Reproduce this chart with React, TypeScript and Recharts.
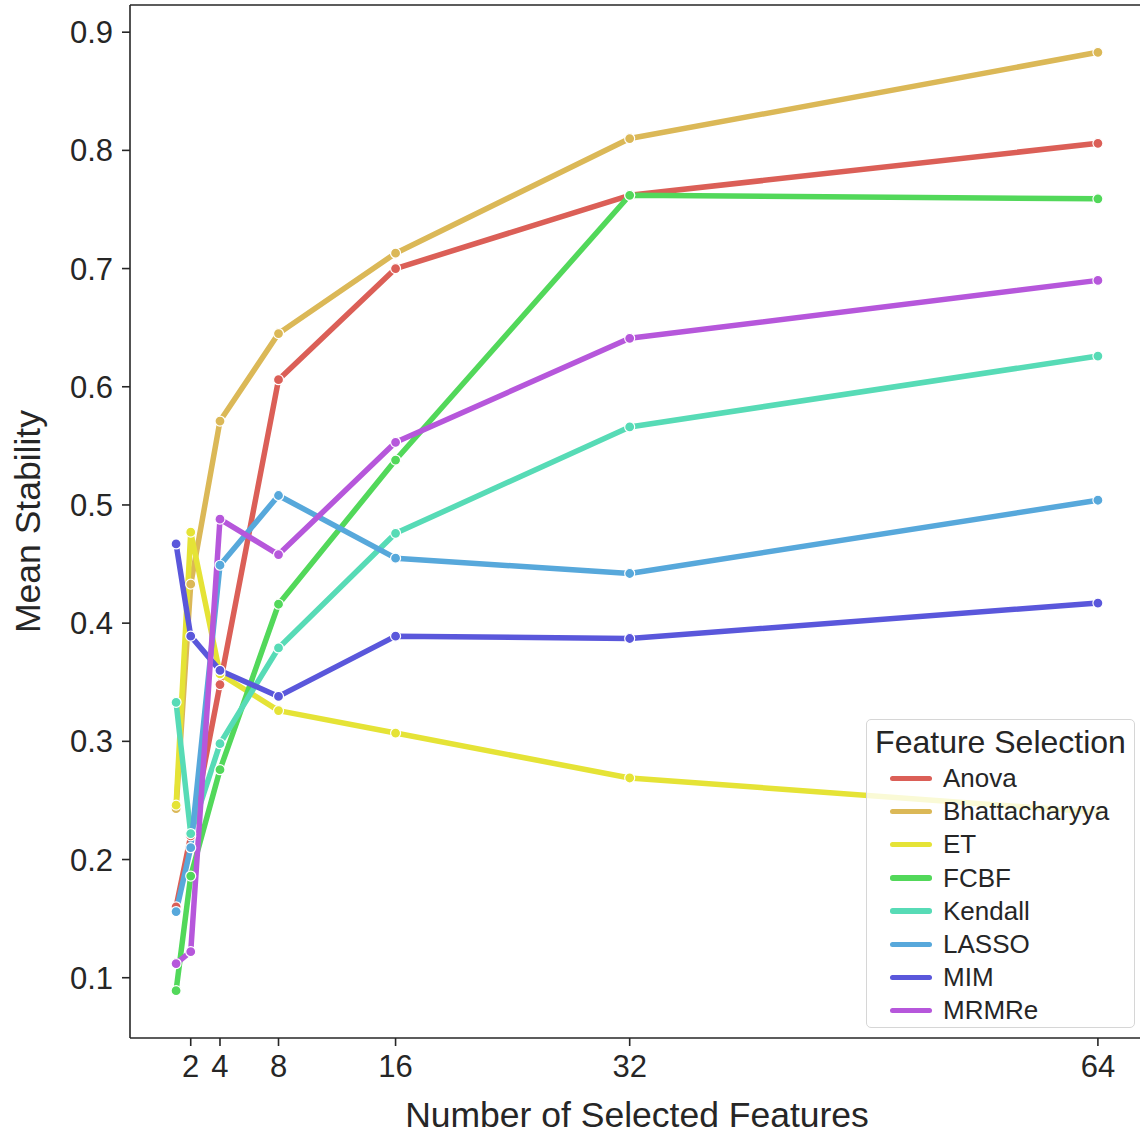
import React from 'react';
import { LineChart, Line, XAxis, YAxis, Legend, Label } from 'recharts';

const featureCounts = [1, 2, 4, 8, 16, 32, 64];
const xTicks = [2, 4, 8, 16, 32, 64];
const yTicks = [0.1, 0.2, 0.3, 0.4, 0.5, 0.6, 0.7, 0.8, 0.9];

const anova = [0.16, 0.22, 0.348, 0.606, 0.7, 0.762, 0.806];
const bhattacharyya = [0.243, 0.433, 0.571, 0.645, 0.713, 0.81, 0.883];
const et = [0.246, 0.477, 0.357, 0.326, 0.307, 0.269, 0.24];
const fcbf = [0.089, 0.186, 0.276, 0.416, 0.538, 0.762, 0.759];
const kendall = [0.333, 0.222, 0.298, 0.379, 0.476, 0.566, 0.626];
const lasso = [0.156, 0.21, 0.449, 0.508, 0.455, 0.442, 0.504];
const mim = [0.467, 0.389, 0.36, 0.338, 0.389, 0.387, 0.417];
const mrmre = [0.112, 0.122, 0.488, 0.458, 0.553, 0.641, 0.69];

const seriesNames = ['Anova', 'Bhattacharyya', 'ET', 'FCBF', 'Kendall', 'LASSO', 'MIM', 'MRMRe'];
const seriesValues = [anova, bhattacharyya, et, fcbf, kendall, lasso, mim, mrmre];
const seriesColors = ['#db5f57', '#dbb857', '#e5e336', '#52d85a', '#57dbb6', '#57a8db', '#5a57db', '#b657db'];

const data = featureCounts.map((x, i) => {
  const row: Record<string, number> = { x };
  seriesNames.forEach((n, k) => {
    row[n] = seriesValues[k][i];
  });
  return row;
});

const FONT = '"Liberation Sans", Arial, sans-serif';
const INK = '#262626';

const LegendBox = () => (
  <div
    style={{
      width: 269,
      height: 309,
      boxSizing: 'border-box',
      border: '1.3px solid #d6d6d6',
      borderRadius: 5,
      background: 'rgba(255,255,255,0.8)',
      fontFamily: FONT,
      color: INK,
      position: 'relative',
    }}
  >
    <div
      style={{
        position: 'absolute',
        left: 0,
        width: '100%',
        top: 21.5 - 18,
        height: 36,
        lineHeight: '36px',
        textAlign: 'center',
        fontSize: 32,
        whiteSpace: 'nowrap',
      }}
    >
      Feature Selection
    </div>
    {seriesNames.map((n, i) => (
      <div
        key={n}
        style={{
          position: 'absolute',
          left: 0,
          top: 58 + i * 33.2 - 15,
          height: 30,
          width: '100%',
        }}
      >
        <div
          style={{
            position: 'absolute',
            left: 23,
            top: 12.5,
            width: 42,
            height: 5.5,
            borderRadius: 2.75,
            background: seriesColors[i],
          }}
        />
        <div
          style={{
            position: 'absolute',
            left: 76,
            top: 0,
            height: 30,
            lineHeight: '30px',
            fontSize: 26,
            whiteSpace: 'nowrap',
          }}
        >
          {n}
        </div>
      </div>
    ))}
  </div>
);

export default function App() {
  return (
    <div
      style={{
        position: 'absolute',
        left: 0,
        top: 0,
        width: 1140,
        height: 1137,
        overflow: 'hidden',
        background: '#fff',
      }}
    >
      <LineChart
        width={1160}
        height={1137}
        data={data}
        margin={{ top: 4, right: 16, left: 0, bottom: 0 }}
        style={{ fontFamily: FONT }}
      >
        <XAxis
          xAxisId="top"
          orientation="top"
          type="number"
          dataKey="x"
          domain={[-2.15, 67.15]}
          allowDataOverflow
          height={1}
          tick={false}
          tickLine={false}
          axisLine={{ stroke: INK, strokeWidth: 1.6 }}
        />
        <XAxis
          dataKey="x"
          type="number"
          domain={[-2.15, 67.15]}
          allowDataOverflow
          ticks={xTicks}
          interval={0}
          height={99}
          tickSize={8}
          tickMargin={9}
          axisLine={{ stroke: INK, strokeWidth: 1.6 }}
          tickLine={{ stroke: INK, strokeWidth: 1.6 }}
          tick={{ fill: INK, fontSize: 31, fontFamily: FONT }}
        >
          <Label
            content={(props: any) => {
              const vb = props.viewBox || {};
              return (
                <text
                  x={vb.x + vb.width / 2}
                  y={vb.y + 89}
                  textAnchor="middle"
                  fill={INK}
                  fontSize={35.5}
                  fontFamily={FONT}
                >
                  Number of Selected Features
                </text>
              );
            }}
          />
        </XAxis>
        <YAxis
          type="number"
          domain={[0.049, 0.923]}
          allowDataOverflow
          ticks={yTicks}
          interval={0}
          width={130}
          tickSize={8}
          tickMargin={9}
          tickFormatter={(v: number) => v.toFixed(1)}
          axisLine={{ stroke: INK, strokeWidth: 1.6 }}
          tickLine={{ stroke: INK, strokeWidth: 1.6 }}
          tick={{ fill: INK, fontSize: 31, fontFamily: FONT }}
        >
          <Label
            content={(props: any) => {
              const vb = props.viewBox || {};
              const cx = vb.x + 40;
              const cy = vb.y + vb.height / 2;
              return (
                <text
                  x={cx}
                  y={cy}
                  textAnchor="middle"
                  fill={INK}
                  fontSize={35.5}
                  fontFamily={FONT}
                  transform={`rotate(-90, ${cx}, ${cy})`}
                >
                  Mean Stability
                </text>
              );
            }}
          />
        </YAxis>
        {seriesNames.map((n, i) => (
          <Line
            key={n}
            type="linear"
            dataKey={n}
            stroke={seriesColors[i]}
            strokeWidth={5.5}
            strokeLinejoin="round"
            strokeLinecap="round"
            dot={{ r: 5, fill: seriesColors[i], stroke: '#ffffff', strokeWidth: 1.2 }}
            activeDot={false}
            isAnimationActive={false}
          />
        ))}
        <Legend
          layout="horizontal"
          verticalAlign="middle"
          align="center"
          wrapperStyle={{ left: 866, top: 719, width: 269, height: 309 }}
          content={() => <LegendBox />}
        />
      </LineChart>
    </div>
  );
}
